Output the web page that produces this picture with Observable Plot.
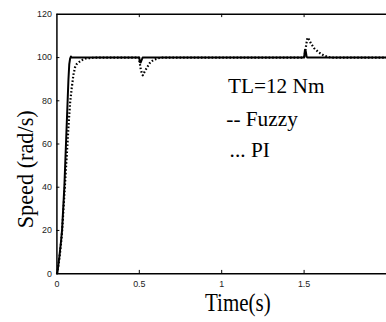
<!DOCTYPE html>
<html>
<head>
<meta charset="utf-8">
<script src="https://cdn.jsdelivr.net/npm/d3@7"></script>
<script src="https://cdn.jsdelivr.net/npm/@observablehq/plot@0.6"></script>
<style>
  html, body { margin: 0; padding: 0; background: #fff; overflow: hidden; }
  #chart { width: 386px; height: 322px; overflow: hidden; }
  .serif text { font-family: "Liberation Serif", "Times New Roman", Times, serif; }
</style>
</head>
<body>
<div id="chart"></div>
<script>
// Fuzzy controller speed response (solid)
const fuzzyT = [0, 0.004, 0.015, 0.025, 0.031, 0.038, 0.045, 0.05, 0.055, 0.06, 0.065, 0.07, 0.075, 0.08, 0.085, 0.09, 0.5, 0.503, 0.508, 0.515, 0.52, 1.5, 1.505, 1.51, 1.515, 1.52, 2];
const fuzzyV = [0, 1, 8, 15, 20, 30, 40, 50, 60, 70, 80, 90, 97, 99.5, 100.5, 100, 100, 98, 97.7, 99, 100, 100, 103.5, 103, 100.5, 100, 100];
// PI controller speed response (dotted)
const piT = [0, 0.004, 0.015, 0.025, 0.032, 0.04, 0.048, 0.056, 0.064, 0.07, 0.08, 0.09, 0.1, 0.11, 0.12, 0.136, 0.15, 0.176, 0.22, 0.26, 0.497, 0.503, 0.509, 0.517, 0.521, 0.533, 0.547, 0.567, 0.587, 0.61, 0.636, 1.5, 1.507, 1.514, 1.521, 1.53, 1.541, 1.561, 1.591, 1.621, 1.66, 2];
const piV = [0, 1, 7, 14, 20, 30, 40, 50, 60, 68, 79, 86, 92, 95.5, 97, 98, 98.8, 99.6, 99.9, 100, 100, 97.4, 94.4, 92.4, 91.8, 93.6, 95.4, 97.9, 98.9, 99.6, 100, 100, 102.8, 106.5, 109.2, 108.3, 106.6, 104.3, 102.3, 100.9, 100, 100];

const xTicks = [0, 0.5, 1, 1.5];
const yTicks = [0, 20, 40, 60, 80, 100, 120];
const noteLabels = ["TL=12 Nm", "-- Fuzzy", "... PI"];
const xTitle = "Time(s)";
const yTitle = "Speed (rad/s)";

const fuzzy = fuzzyT.map((t, i) => ({t, v: fuzzyV[i]}));
const pi = piT.map((t, i) => ({t, v: piV[i]}));

const noteX = [1.038, 1.028, 1.048];
const noteY = [83.7, 68.4, 53.9];
const SERIF = "Liberation Serif";

const chart = Plot.plot({
  width: 390,
  height: 322,
  marginLeft: 57,
  marginRight: 0,
  marginTop: 14,
  marginBottom: 46,
  style: {fontFamily: "'Liberation Sans', Arial, sans-serif", fontSize: "9px", color: "#222", background: "#fff"},
  x: {domain: [0, 2], ticks: xTicks, tickFormat: d => String(d), tickSize: 0, tickPadding: 7, label: null},
  y: {domain: [0, 120], ticks: yTicks, tickSize: 0, tickPadding: 5, label: null},
  marks: [
    Plot.line(pi, {x: "t", y: "v", stroke: "black", strokeWidth: 2.2, strokeDasharray: "1.6,2", strokeLinecap: "butt"}),
    Plot.line(fuzzy, {x: "t", y: "v", stroke: "black", strokeWidth: 2}),
    Plot.ruleX([0], {stroke: "black", strokeWidth: 1.5}),
    Plot.ruleY([0, 120], {stroke: "black", strokeWidth: 1.5}),
    Plot.ruleX(xTicks.slice(1), {y1: 0, y2: 1.5, stroke: "black", strokeWidth: 1}),
    Plot.ruleX(xTicks.slice(1), {y1: 118.5, y2: 120, stroke: "black", strokeWidth: 1}),
    Plot.ruleY(yTicks.slice(1, -1), {x1: 0, x2: 0.018, stroke: "black", strokeWidth: 1}),
    Plot.text(noteLabels, {
      x: (d, i) => noteX[i], y: (d, i) => noteY[i], text: d => d,
      textAnchor: "start", lineAnchor: "bottom",
      fontFamily: SERIF, fontSize: 21.5, fill: "black", className: "serif"
    }),
    Plot.text([xTitle], {
      x: 1.098, y: -17.4, text: d => d, textAnchor: "middle", lineAnchor: "bottom",
      fontFamily: SERIF, fontSize: 26.5, fill: "black",
      className: "serif squeeze"
    }),
    Plot.text([yTitle], {
      x: -0.147, y: 48.3, text: d => d, textAnchor: "middle", lineAnchor: "bottom", rotate: -90,
      fontFamily: SERIF, fontSize: 22.5, fill: "black", className: "serif"
    })
  ]
});
// horizontally condense the x-axis title, as in the reference
chart.querySelectorAll(".squeeze text").forEach(t => {
  const tr = t.getAttribute("transform") || "";
  t.setAttribute("transform", (tr + " scale(0.8,1)").trim());
});
document.getElementById("chart").appendChild(chart);
</script>
</body>
</html>
